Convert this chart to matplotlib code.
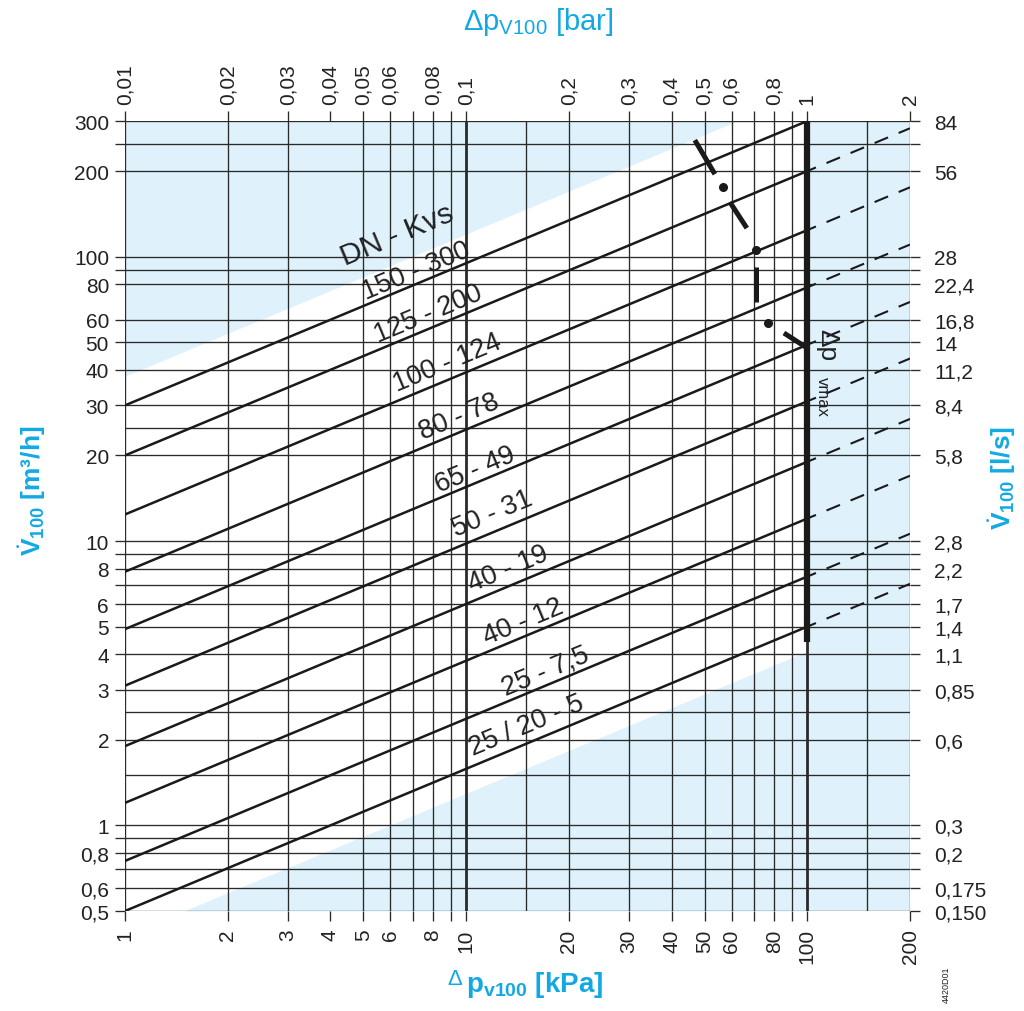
import numpy as np
import matplotlib
matplotlib.use("Agg")
import matplotlib.pyplot as plt
from matplotlib.ticker import FixedLocator, NullLocator, FixedFormatter

plt.rcParams['font.family'] = ['Liberation Sans', 'DejaVu Sans']
plt.rcParams['mathtext.fontset'] = 'custom'
plt.rcParams['mathtext.rm'] = 'Liberation Sans'
plt.rcParams['mathtext.it'] = 'Liberation Sans:italic'
plt.rcParams['mathtext.bf'] = 'Liberation Sans:bold'

# ---------------- data ----------------
kv_values = [300, 200, 124, 78, 49, 31, 19, 12, 7.5, 5]
kv_labels = ["150 - 300", "125 - 200", "100 - 124", "80 - 78", "65 - 49",
             "50 - 31", "40 - 19", "40 - 12", "25 - 7,5", "25 / 20 - 5"]
label_dp = [7.13, 7.73, 8.78, 9.53, 10.6, 11.9, 13.3, 14.7, 17.1, 15.0]
label_q = [89.7, 63.3, 42.3, 27.5, 17.9, 12.5, 8.04, 5.23, 3.49, 2.25]
header_dp, header_q = 6.27, 120.0

dp_min, dp_nom, dp_max = 1, 100, 200          # kPa
q_min, q_max = 0.5, 300                       # m3/h

grid_q = [0.5, 0.6, 0.7, 0.8, 0.9, 1, 1.5, 2, 2.5, 3, 4, 5, 6, 7, 8, 9, 10,
          20, 25, 30, 40, 50, 60, 80, 90, 100, 200, 250, 300]
grid_dp = [1, 2, 3, 5, 6, 7, 8, 9, 10, 15, 20, 30, 40, 50, 60, 70, 80, 90,
           100, 150, 200]

q_ticks = [0.5, 0.6, 0.7, 0.8, 0.9, 1, 2, 3, 4, 5, 6, 7, 8, 9, 10, 20, 30,
           40, 50, 60, 80, 90, 100, 200, 250, 300]
q_tick_labels = ["0,5", "0,6", "", "0,8", "", "1", "2", "3", "4", "5", "6",
                 "", "8", "", "10", "20", "30", "40", "50", "60", "80", "",
                 "100", "200", "", "300"]
ls_tick_labels = ["0,150", "0,175", "", "0,2", "", "0,3", "0,6", "0,85",
                  "1,1", "1,4", "1,7", "", "2,2", "", "2,8", "5,8", "8,4",
                  "11,2", "14", "16,8", "22,4", "", "28", "56", "", "84"]

dp_ticks = [1, 2, 3, 4, 5, 6, 7, 8, 9, 10, 20, 30, 40, 50, 60, 70, 80, 90,
            100, 200]
dp_tick_labels = ["1", "2", "3", "4", "5", "6", "", "8", "", "10", "20", "30",
                  "40", "50", "60", "", "80", "", "100", "200"]
bar_ticks = [0.01, 0.02, 0.03, 0.04, 0.05, 0.06, 0.07, 0.08, 0.09, 0.1, 0.2,
             0.3, 0.4, 0.5, 0.6, 0.7, 0.8, 0.9, 1, 2]
bar_tick_labels = ["0,01", "0,02", "0,03", "0,04", "0,05", "0,06", "", "0,08",
                   "", "0,1", "0,2", "0,3", "0,4", "0,5", "0,6", "", "0,8", "",
                   "1", "2"]

# shaded zone boundaries (as equivalent Kv lines)
shade_kv_upper = 380
shade_kv_lower = 4.1
vmax_line_qmin = 4.4

# Δp vmax dash-dot curve
vmax_dash_dp = [(46.8, 53.6), (59.3, 66.5), (70.7, 70.7), (85.4, 100)]
vmax_dash_q = [(257, 195), (155.6, 126), (91.9, 69.2), (53.9, 47.7)]
vmax_dot_dp = [56.6, 70.7, 76.7]
vmax_dot_q = [176, 105.4, 58.4]

# ---------------- style ----------------
CYAN = "#12a9e3"
BLUE_BG = "#dff1fb"
GRID = "#2a2a2a"
LINE = "#1a1a1a"
TXT = "#222222"

W, H = 1024, 1012
def fp(x, y):
    return x / W, 1 - y / H

fig = plt.figure(figsize=(W / 100, H / 100), dpi=100)
ax = fig.add_axes([125 / W, 1 - 912 / H, 785 / W, 790 / H])
ax.set_xscale('log')
ax.set_yscale('log')
ax.set_xlim(dp_min, dp_max)
ax.set_ylim(q_min, q_max)
for s in ax.spines.values():
    s.set_visible(False)

# shading
dp_up = np.array([dp_min, dp_nom * (q_max / shade_kv_upper) ** 2])
q_up = shade_kv_upper * np.sqrt(dp_up / dp_nom)
ax.fill_between(dp_up, q_up, q_max, color=BLUE_BG, lw=0, zorder=0)
dp_lo = np.array([dp_nom * (q_min / shade_kv_lower) ** 2, dp_nom])
q_lo = shade_kv_lower * np.sqrt(dp_lo / dp_nom)
ax.fill_between(dp_lo, q_min, q_lo, color=BLUE_BG, lw=0, zorder=0)
ax.axvspan(dp_nom, dp_max, color=BLUE_BG, lw=0, zorder=0)

# grid
for g in grid_q:
    ax.axhline(g, color=GRID, lw=0.95, zorder=1)
for g in grid_dp:
    lw = 2.0 if g in (10, 100) else 0.95
    ax.axvline(g, color=GRID, lw=lw, zorder=1)

# ticks
tick_len = 7.5
ax.xaxis.set_major_locator(FixedLocator(dp_ticks))
ax.xaxis.set_major_formatter(FixedFormatter(dp_tick_labels))
ax.xaxis.set_minor_locator(NullLocator())
ax.yaxis.set_major_locator(FixedLocator(q_ticks))
ax.yaxis.set_major_formatter(FixedFormatter(q_tick_labels))
ax.yaxis.set_minor_locator(NullLocator())
ax.tick_params(axis='both', direction='out', length=tick_len, width=0.95,
               color=GRID, labelsize=15, labelcolor=TXT)
ax.tick_params(axis='x', pad=5, labelrotation=90)
ax.tick_params(axis='y', pad=4)

top = ax.secondary_xaxis('top', functions=(lambda x: x / 100, lambda x: x * 100))
top.xaxis.set_major_locator(FixedLocator(bar_ticks))
top.xaxis.set_major_formatter(FixedFormatter(bar_tick_labels))
top.xaxis.set_minor_locator(NullLocator())
top.tick_params(direction='out', length=tick_len, width=0.95, color=GRID,
                labelsize=15, labelcolor=TXT, labelrotation=90, pad=5)
for s in top.spines.values():
    s.set_visible(False)

right = ax.secondary_yaxis('right', functions=(lambda y: y, lambda y: y))
right.yaxis.set_major_locator(FixedLocator(q_ticks))
right.yaxis.set_major_formatter(FixedFormatter(ls_tick_labels))
right.yaxis.set_minor_locator(NullLocator())
right.tick_params(direction='out', length=tick_len, width=0.95, color=GRID,
                  labelsize=15, labelcolor=TXT, pad=10)
for s in right.spines.values():
    s.set_visible(False)

# Kv lines
for kv in kv_values:
    xs = np.array([dp_min, dp_nom])
    ax.plot(xs, kv * np.sqrt(xs / dp_nom), color=LINE, lw=1.8, zorder=3,
            solid_capstyle='butt')
    if kv * np.sqrt(dp_max / dp_nom) < q_max:
        xd = np.array([dp_nom, dp_max])
        ax.plot(xd, kv * np.sqrt(xd / dp_nom), color=LINE, lw=1.5, zorder=3,
                linestyle=(2.5, (7.0, 5.5)))

# thick Δp limit line
ax.plot([dp_nom, dp_nom], [vmax_line_qmin, q_max], color=LINE, lw=4.5,
        zorder=4, solid_capstyle='butt')

# Δp vmax dash-dot curve
for xs, ys in zip(vmax_dash_dp, vmax_dash_q):
    ax.plot(xs, ys, color=LINE, lw=3.6, zorder=5, solid_capstyle='butt')
ax.plot(vmax_dot_dp, vmax_dot_q, 'o', color=LINE, ms=5.5, zorder=5)

# label angle from data slope
p1 = ax.transData.transform((dp_min, 1.0))
p2 = ax.transData.transform((dp_nom, 10.0))
ang = np.degrees(np.arctan2(p2[1] - p1[1], p2[0] - p1[0]))

ax.text(header_dp, header_q, "DN - Kvs", rotation=ang, rotation_mode='anchor',
        ha='center', va='center', fontsize=21.5, color=TXT, zorder=6)
for lab, x, y in zip(kv_labels, label_dp, label_q):
    ax.text(x, y, lab, rotation=ang, rotation_mode='anchor', ha='center',
            va='center', fontsize=19.5, color=TXT, zorder=6)

ax.text(114.2, 49.3, "Δp", rotation=270, rotation_mode='anchor', ha='center',
        va='center', fontsize=19, color=TXT, zorder=6)
ax.text(110.4, 32.4, "vmax", rotation=270, rotation_mode='anchor',
        ha='center', va='center', fontsize=12, color=TXT, zorder=6)

# axis titles
fig.text(*fp(538, 22), "Δp$_{\\mathregular{V100}}$ [bar]", ha='center',
         va='center', fontsize=21, color=CYAN)
fig.text(*fp(455, 980), "Δ", ha='center', va='center', fontsize=16,
         color=CYAN)
fig.text(*fp(466, 985), "p$_{\\mathregular{v100}}$ [kPa]", ha='left',
         va='center', fontsize=20, color=CYAN, fontweight='bold')

side_titles = []
for (x, y), unit in [((33, 491), "[m³/h]"), ((1003, 478), "[l/s]")]:
    t = fig.text(*fp(x, y), "V$_{\\mathregular{100}}$ " + unit,
                 ha='center', va='center', rotation=90, fontsize=19,
                 color=CYAN, fontweight='bold')
    side_titles.append(t)

# dot over the V (flow-rate symbol)
fig.canvas.draw()
renderer = fig.canvas.get_renderer()
probe = fig.text(0, 0, "V", fontsize=19, fontweight='bold')
vw = probe.get_window_extent(renderer).width
probe.remove()
for t in side_titles:
    bb = t.get_window_extent(renderer)
    cx = bb.x0 - 1.5
    cy = bb.y0 + vw * 0.5
    fig.text(cx / W, cy / H, "•", ha='center', va='center', fontsize=7,
             color=CYAN, fontweight='bold')

fig.text(*fp(946, 985), "4420D01", ha='center', va='center', rotation=90,
         fontsize=6.5, color=TXT)

fig.savefig("out.png", dpi=100)
